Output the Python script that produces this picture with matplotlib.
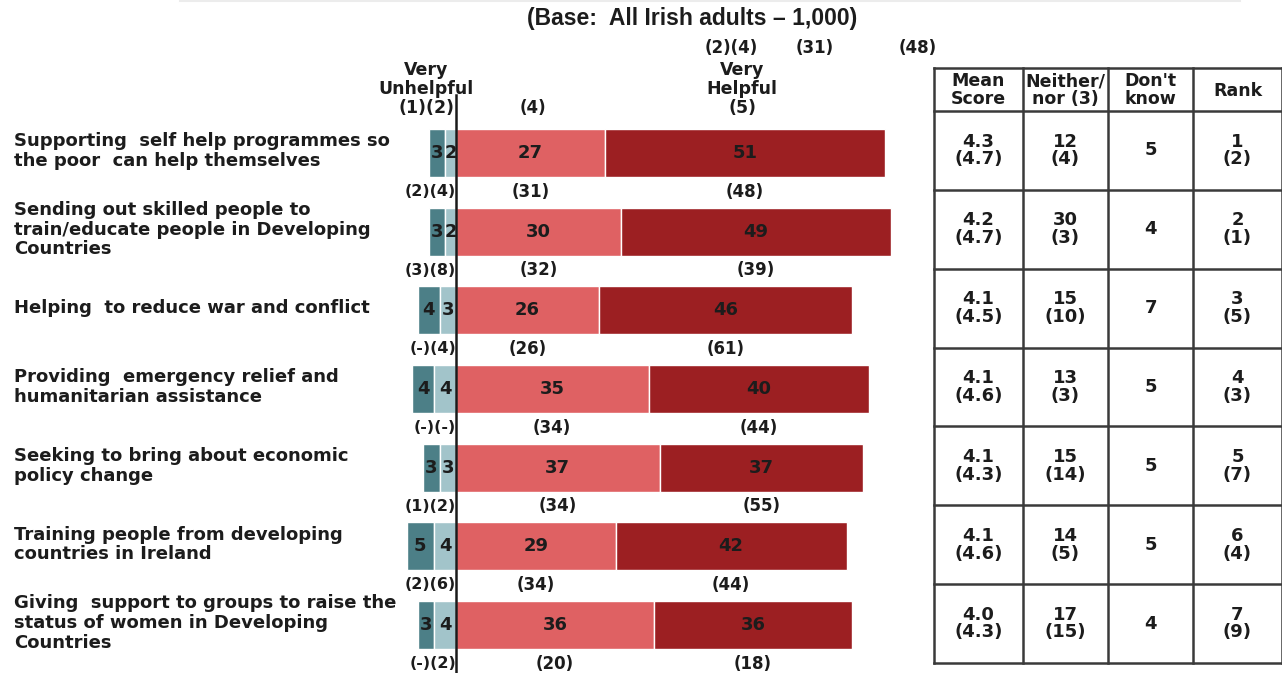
import matplotlib
matplotlib.use('Agg')
import matplotlib.pyplot as plt

plt.rcParams['font.family'] = ['DejaVu Sans']
plt.rcParams['font.weight'] = 'bold'

categories = [
    'Supporting  self help programmes so\nthe poor  can help themselves',
    'Sending out skilled people to\ntrain/educate people in Developing\nCountries',
    'Helping  to reduce war and conflict',
    'Providing  emergency relief and\nhumanitarian assistance',
    'Seeking to bring about economic\npolicy change',
    'Training people from developing\ncountries in Ireland',
    'Giving  support to groups to raise the\nstatus of women in Developing\nCountries',
]
very_unhelpful = [3, 3, 4, 4, 3, 5, 3]
unhelpful = [2, 2, 3, 4, 3, 4, 4]
fairly_helpful = [27, 30, 26, 35, 37, 29, 36]
very_helpful = [51, 49, 46, 40, 37, 42, 36]

# previous survey figures shown in brackets under each bar
prev_vu = ['2', '3', '-', '-', '1', '2', '-']
prev_u = ['4', '8', '4', '-', '2', '6', '2']
prev_fh = ['31', '32', '26', '34', '34', '34', '20']
prev_vh = ['48', '39', '61', '44', '55', '44', '18']

mean_score = ['4.3', '4.2', '4.1', '4.1', '4.1', '4.1', '4.0']
mean_prev = ['4.7', '4.7', '4.5', '4.6', '4.3', '4.6', '4.3']
neither = ['12', '30', '15', '13', '15', '14', '17']
neither_prev = ['4', '3', '10', '3', '14', '5', '15']
dont_know = ['5', '4', '7', '5', '5', '5', '4']
rank = ['1', '2', '3', '4', '5', '6', '7']
rank_prev = ['2', '1', '5', '3', '7', '4', '9']

table_headers = ['Mean\nScore', 'Neither/\nnor (3)', "Don't\nknow", 'Rank']

c_vu = '#4c7f87'
c_u = '#a2c4ca'
c_fh = '#df6163'
c_vh = '#9c1f22'
txt = '#1c1c1c'

W, H = 1282, 673
fig = plt.figure(figsize=(W / 100, H / 100), dpi=100)

# bar axes: zero at px 456, 5.5 px per percentage point, rows 78.67 px apart
ax_left, ax_right = 380, 930
ax = fig.add_axes([ax_left / W, 0, (ax_right - ax_left) / W, 1])
ppu = 5.5
ax.set_xlim((ax_left - 456) / ppu, (ax_right - 456) / ppu)
row_h = 78.67
ax.set_ylim((H - 153) / row_h, -153 / row_h)
ax.axis('off')

n = len(categories)
ys = list(range(n))
bh = 0.61
neg1 = [-(a + b) for a, b in zip(very_unhelpful, unhelpful)]
neg2 = [-b for b in unhelpful]
ax.barh(ys, very_unhelpful, left=neg1, height=bh, color=c_vu, edgecolor='white', linewidth=1)
ax.barh(ys, unhelpful, left=neg2, height=bh, color=c_u, edgecolor='white', linewidth=1)
ax.barh(ys, fairly_helpful, left=0, height=bh, color=c_fh, edgecolor='white', linewidth=1)
ax.barh(ys, very_helpful, left=fairly_helpful, height=bh, color=c_vh, edgecolor='white', linewidth=1)

fs_bar = 13
fs_lab = 12
for i in range(n):
    vu, u, fh, vh = very_unhelpful[i], unhelpful[i], fairly_helpful[i], very_helpful[i]
    ax.text(neg1[i] + vu / 2, i, str(vu), ha='center', va='center', fontsize=fs_bar, color=txt)
    ax.text(neg2[i] + u / 2, i, str(u), ha='center', va='center', fontsize=fs_bar, color=txt)
    ax.text(fh / 2, i, str(fh), ha='center', va='center', fontsize=fs_bar, color=txt)
    ax.text(fh + vh / 2, i, str(vh), ha='center', va='center', fontsize=fs_bar, color=txt)
    yl = i + 0.49
    ax.text(0.0, yl, '(%s)(%s)' % (prev_vu[i], prev_u[i]), ha='right', va='center',
            fontsize=11.5, color=txt)
    ax.text(fh / 2, yl, '(%s)' % prev_fh[i], ha='center', va='center', fontsize=fs_lab, color=txt)
    ax.text(fh + vh / 2, yl, '(%s)' % prev_vh[i], ha='center', va='center', fontsize=fs_lab, color=txt)

ax.plot([0, 0], [-0.74, n - 0.4], color='#1a1a1a', lw=1.8, clip_on=False)

# overlay in pixel coordinates for labels and the table
ov = fig.add_axes([0, 0, 1, 1], facecolor='none')
ov.set_xlim(0, W)
ov.set_ylim(H, 0)
ov.axis('off')

for i, cat in enumerate(categories):
    ov.text(14, 151 + i * row_h, cat, ha='left', va='center', fontsize=13,
            color=txt, linespacing=1.12)

ov.plot([180, 1240], [1, 1], color='#ececec', lw=1.5)
ov.text(692, 18, '(Base:  All Irish adults \u2013 1,000)', ha='center', va='center',
        fontsize=16.5, color=txt, family=['Liberation Sans Narrow', 'Liberation Sans'])
ov.text(731, 48, '(2)(4)', ha='center', va='center', fontsize=fs_lab, color=txt)
ov.text(815, 48, '(31)', ha='center', va='center', fontsize=fs_lab, color=txt)
ov.text(918, 48, '(48)', ha='center', va='center', fontsize=fs_lab, color=txt)
ov.text(426, 89, 'Very\nUnhelpful\n(1)(2)', ha='center', va='center', fontsize=12.5,
        color=txt, linespacing=1.08)
ov.text(533, 108, '(4)', ha='center', va='center', fontsize=fs_lab, color=txt)
ov.text(742, 89, 'Very\nHelpful\n(5)', ha='center', va='center', fontsize=12.5,
        color=txt, linespacing=1.08)

# table
col_x = [934, 1023, 1108, 1193, 1282]
row_y = [68, 111] + [111 + (k + 1) * 78.86 for k in range(n)]
lc = '#3a3a3a'
for x in col_x:
    ov.plot([x, x], [row_y[0], row_y[-1]], color=lc, lw=1.8)
for y in row_y:
    ov.plot([col_x[0], col_x[-1]], [y, y], color=lc, lw=1.8)

for j, h in enumerate(table_headers):
    ov.text((col_x[j] + col_x[j + 1]) / 2, (row_y[0] + row_y[1]) / 2 + 1, h,
            ha='center', va='center', fontsize=12.5, color=txt, linespacing=1.0)

for i in range(n):
    yc = (row_y[i + 1] + row_y[i + 2]) / 2
    cells = ['%s\n(%s)' % (mean_score[i], mean_prev[i]),
             '%s\n(%s)' % (neither[i], neither_prev[i]),
             dont_know[i],
             '%s\n(%s)' % (rank[i], rank_prev[i])]
    for j, c in enumerate(cells):
        ov.text((col_x[j] + col_x[j + 1]) / 2, yc, c, ha='center', va='center',
                fontsize=13, color=txt, linespacing=0.98)

fig.savefig('out.png', dpi=100, facecolor='white')
